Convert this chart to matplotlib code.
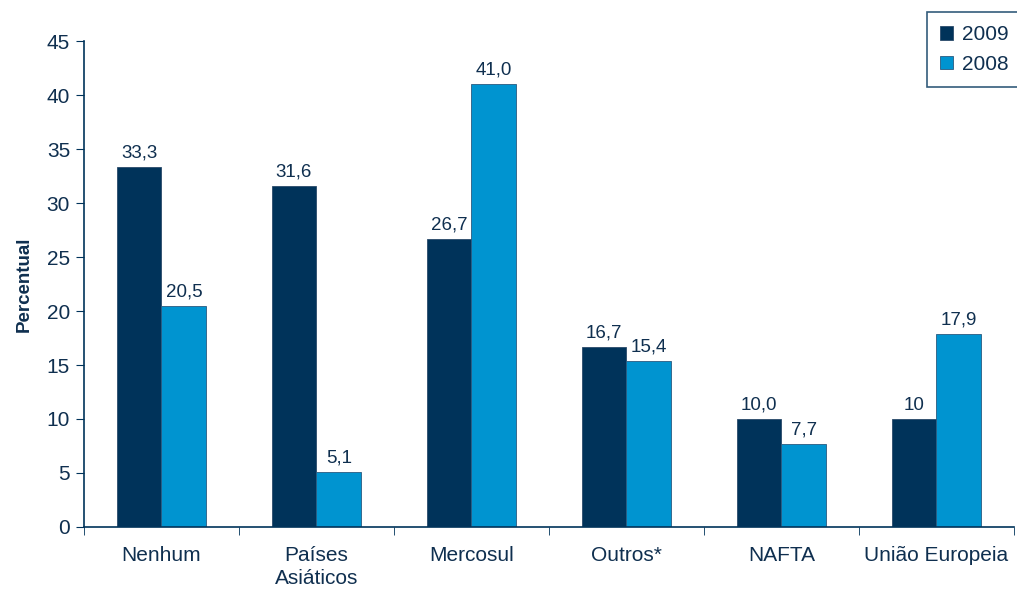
import numpy as np
import matplotlib.pyplot as plt

plt.rcParams['font.family'] = ['Liberation Sans', 'DejaVu Sans']

categorias = ['Nenhum', 'Países\nAsiáticos', 'Mercosul', 'Outros*', 'NAFTA', 'União Europeia']
v2009 = [33.3, 31.6, 26.7, 16.7, 10.0, 10.0]
v2008 = [20.5, 5.1, 41.0, 15.4, 7.7, 17.9]
rot2009 = ['33,3', '31,6', '26,7', '16,7', '10,0', '10']
rot2008 = ['20,5', '5,1', '41,0', '15,4', '7,7', '17,9']

escuro = '#00335a'
claro = '#0094d0'
texto = '#0f2f4f'

fig = plt.figure(figsize=(10.17, 5.89), dpi=100)
ax = fig.add_axes([0.0826, 0.1053, 0.9144, 0.825])

x = np.arange(len(categorias))
w = 0.29
b1 = ax.bar(x - w / 2, v2009, w, color=escuro, edgecolor='#2a4a6a', linewidth=0.6, label='2009')
b2 = ax.bar(x + w / 2, v2008, w, color=claro, edgecolor='#2a5a80', linewidth=0.6, label='2008')

for bar, t in zip(b1, rot2009):
    ax.text(bar.get_x() + bar.get_width() / 2, bar.get_height() + 0.5, t,
            ha='center', va='bottom', fontsize=13.5, color=texto)
for bar, t in zip(b2, rot2008):
    ax.text(bar.get_x() + bar.get_width() / 2, bar.get_height() + 0.5, t,
            ha='center', va='bottom', fontsize=13.5, color=texto)

ax.set_xlim(-0.5, len(categorias) - 0.5)
ax.set_ylim(0, 45)
ax.set_yticks(range(0, 46, 5))
ax.set_xticks(x)
ax.set_xticklabels(categorias, linespacing=1.25)
ax.set_xticks(np.arange(-0.5, len(categorias), 1), minor=True)
ax.tick_params(axis='x', which='major', length=0, pad=14, labelsize=15, labelcolor=texto)
ax.tick_params(axis='x', which='minor', length=6, direction='out', color=escuro)
ax.tick_params(axis='y', length=6, direction='out', color=escuro, labelsize=15, labelcolor=texto, pad=4)

for s in ['top', 'right']:
    ax.spines[s].set_visible(False)
for s in ['left', 'bottom']:
    ax.spines[s].set_color(escuro)
    ax.spines[s].set_linewidth(1.2)

ax.set_ylabel('Percentual', fontsize=13.5, fontweight='bold', color=texto, labelpad=10)

leg = ax.legend(loc='upper right', bbox_to_anchor=(1.009, 1.06), borderaxespad=0,
                fontsize=15, frameon=True, fancybox=False, handlelength=0.6, handleheight=0.6,
                handletextpad=0.45, borderpad=0.65, labelspacing=0.5, labelcolor=texto)
leg.get_frame().set_edgecolor(escuro)
leg.get_frame().set_linewidth(1.2)

fig.savefig('out.png', dpi=100)
